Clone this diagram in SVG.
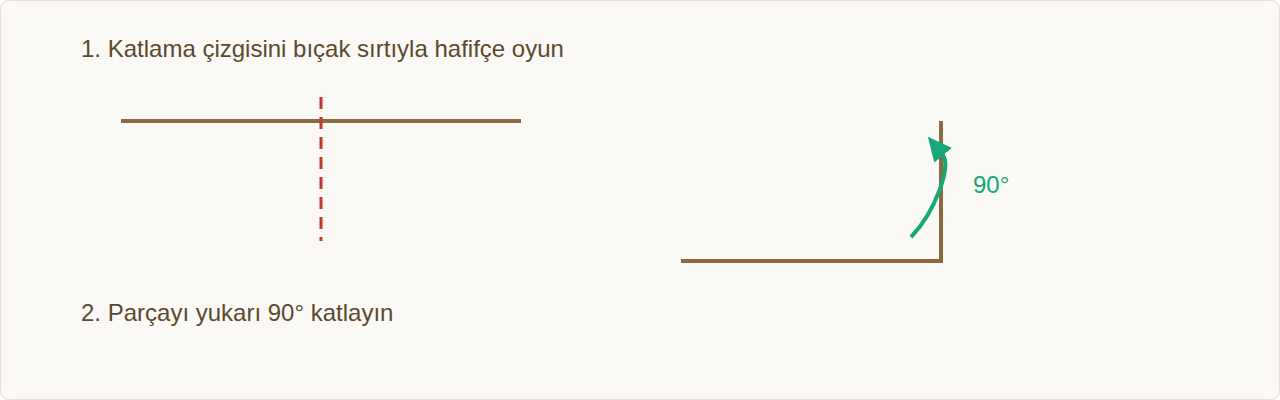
<svg xmlns="http://www.w3.org/2000/svg" width="1280" height="400" viewBox="0 0 1280 400">
<defs>
<style>
.lbl{font-family:"Liberation Sans",Arial,sans-serif;font-size:24px;fill:#5c4a2e}
.wood{stroke:#8b6b3d;stroke-width:4;fill:none}
</style>
<marker id="ah" viewBox="0 0 24 23" refX="1" refY="11.5" markerWidth="24" markerHeight="23" markerUnits="userSpaceOnUse" orient="auto">
<path d="M0,0 L24,11.5 L0,23 z" fill="#16a878"/>
</marker>
</defs>
<rect x="0.5" y="0.5" width="1279" height="399" rx="8" fill="#faf9f5" stroke="#e6e0d2"/>
<g id="step1">
<text class="lbl" x="81" y="57">1. Katlama çizgisini bıçak sırtıyla hafifçe oyun</text>
<line class="wood" x1="121" y1="121" x2="521" y2="121"/>
<line x1="321" y1="97" x2="321" y2="241" stroke="#c0392b" stroke-width="3" stroke-dasharray="12 8"/>
</g>
<g id="step2">
<text class="lbl" x="81" y="321">2. Parçayı yukarı 90° katlayın</text>
<polyline class="wood" points="681,261 941,261 941,121"/>
</g>
<g id="connectors">
<path d="M911,237 C935,212 952,166 942.5,154.5" fill="none" stroke="#16a878" stroke-width="4" marker-end="url(#ah)"/>
<text x="973" y="193" font-family="Liberation Sans,Arial,sans-serif" font-size="24" fill="#16a878">90°</text>
</g>
</svg>
